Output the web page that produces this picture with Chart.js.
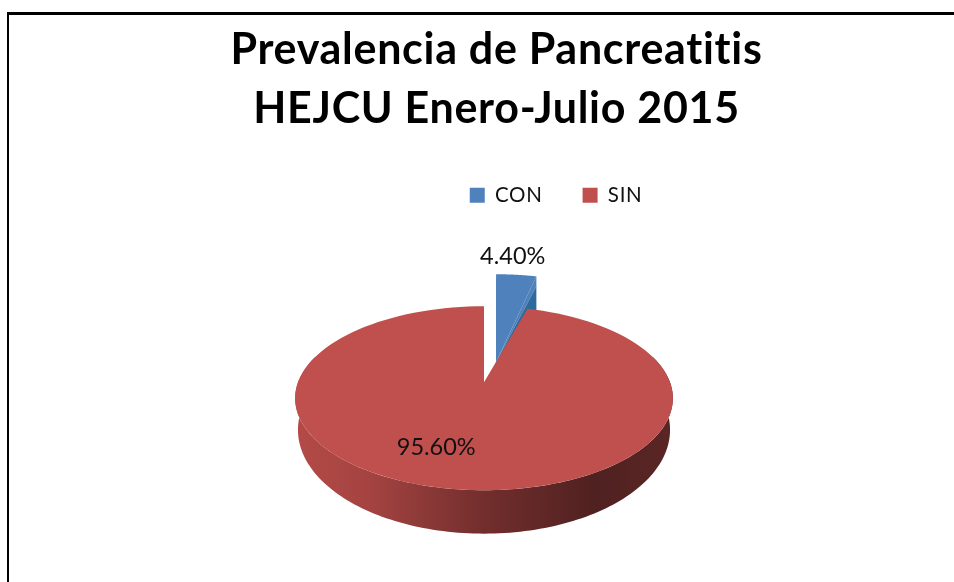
<!DOCTYPE html>
<html>
<head>
<meta charset="utf-8">
<style>
html, body { margin: 0; padding: 0; background: #fff; }
#wrap { width: 954px; height: 582px; }
</style>
<script src="https://cdn.jsdelivr.net/npm/chart.js@4"></script>
</head>
<body>
<div id="wrap"><canvas id="myChart" width="954" height="582"></canvas></div>
<script>
var categories = ['CON', 'SIN'];
var values = [4.40, 95.60];
var valueLabels = ['4.40%', '95.60%'];
var titleLines = ['Prevalencia de Pancreatitis', 'HEJCU Enero-Julio 2015'];
var sliceColors = ['#4f81bd', '#c0504d'];

// tilt of the disc, as excel draws it for a 3d pie
var tilt = -0.174;
var discW = 186;
var discH = 89.2;
var wallDepth = 41;

// disc coordinates (u right, v down, radius 1) to canvas pixels
function project(el, u, v) {
    var w = 1 + tilt * v;
    return {
        x: el.x + discW * u / w,
        y: el.y + discH * v / w
    };
}

function polar(angle, r, du, dv) {
    return { u: Math.cos(angle) * r + (du || 0), v: Math.sin(angle) * r + (dv || 0) };
}

function slicePath(ctx, el, apex, du, dv) {
    ctx.beginPath();
    ctx.moveTo(apex.x, apex.y);
    for (var i = 0; i <= 120; i++) {
        var a = el.startAngle + (el.endAngle - el.startAngle) * i / 120;
        var p = polar(a, 1, du, dv);
        var q = project(el, p.u, p.v);
        ctx.lineTo(q.x, q.y);
    }
    ctx.closePath();
}

// lower rim sits a bit narrower than the top one
function lowerPoint(el, p) {
    return {
        x: el.x + (p.x - el.x) * 0.985,
        y: p.y + wallDepth * (0.72 + 0.28 * (p.y - el.y) / discH)
    };
}

function wallPath(ctx, el, from, to) {
    var i, a, p, top = [];
    for (i = 0; i <= 160; i++) {
        a = from + (to - from) * i / 160;
        p = polar(a, 1);
        top.push(project(el, p.u, p.v));
    }
    ctx.beginPath();
    for (i = 0; i < top.length; i++) {
        ctx.lineTo(top[i].x, top[i].y);
    }
    for (i = top.length - 1; i >= 0; i--) {
        var low = lowerPoint(el, top[i]);
        ctx.lineTo(low.x, low.y);
    }
    ctx.closePath();
}

var tiltedPie = {
    id: 'tiltedPie',
    afterLayout: function (chart) {
        // title and legend are not centred on the pie in the original
        chart.titleBlock.left += 12.5;
        chart.titleBlock.right += 12.5;
        chart.legend.left += 70;
        chart.legend.right += 70;
    },
    beforeDraw: function (chart) {
        var ctx = chart.ctx;
        ctx.save();
        ctx.fillStyle = '#fff';
        ctx.fillRect(0, 0, chart.width, chart.height);
        ctx.fillStyle = '#000';
        ctx.fillRect(7, 12, 2, chart.height - 12);
        ctx.fillRect(7, 12, chart.width - 7, 3);
        ctx.restore();
        ctx.letterSpacing = '0.7px';
    },
    beforeDatasetDraw: function (chart, args) {
        var ctx = chart.ctx;
        var arcs = args.meta.data;
        var con = arcs[0], sin = arcs[1];
        ctx.letterSpacing = '0px';
        ctx.save();

        // exploded slice: top first, dark inner wall over its lower side
        var a = project(con, 0.067, -0.233);
        var b = polar(con.endAngle, 1, 0.082, -0.534);
        var c = project(con, b.u, b.v);
        slicePath(ctx, con, a, 0.082, -0.534);
        ctx.fillStyle = sliceColors[0];
        ctx.fill();
        ctx.beginPath();
        ctx.moveTo(a.x, a.y);
        ctx.lineTo(c.x, c.y);
        ctx.lineTo(c.x, c.y + 10);
        ctx.closePath();
        ctx.fill();
        ctx.fillStyle = '#2f6a9b';
        ctx.beginPath();
        ctx.moveTo(a.x, a.y);
        ctx.lineTo(c.x, c.y + 10);
        ctx.lineTo(c.x, c.y + 40);
        ctx.lineTo(a.x, a.y + 40);
        ctx.closePath();
        ctx.fill();

        // front wall of the big slice
        var left = sin.x - discW;
        var grad = ctx.createLinearGradient(left, 0, left + discW * 2, 0);
        grad.addColorStop(0, '#b34a47');
        grad.addColorStop(0.2, '#a34341');
        grad.addColorStop(0.5, '#722e2d');
        grad.addColorStop(0.8, '#4f2120');
        grad.addColorStop(1, '#5a2625');
        wallPath(ctx, sin, -0.3, Math.PI + 0.3);
        ctx.fillStyle = grad;
        ctx.fill();

        slicePath(ctx, sin, project(sin, 0, 0), 0, 0);
        ctx.fillStyle = sliceColors[1];
        ctx.fill();
        ctx.restore();
        return false;
    },
    afterDatasetsDraw: function (chart) {
        var ctx = chart.ctx;
        var arcs = chart.getDatasetMeta(0).data;
        var nudges = [[-1, -23], [-30, 4]];
        ctx.save();
        ctx.font = '23.5px Lato';
        ctx.fillStyle = '#111';
        ctx.textAlign = 'center';
        ctx.textBaseline = 'middle';
        arcs.forEach(function (el, i) {
            var mid = (el.startAngle + el.endAngle) / 2;
            var radial = i === 0 ? 1.45 : 0.62;
            var p = polar(mid, radial);
            var q = project(el, p.u, p.v);
            ctx.fillText(valueLabels[i], q.x + nudges[i][0], q.y + nudges[i][1]);
        });
        ctx.restore();
    }
};

new Chart('myChart', {
    type: 'pie',
    data: {
        labels: categories,
        datasets: [{
            data: values,
            backgroundColor: sliceColors,
            borderWidth: 0
        }]
    },
    options: {
        responsive: false,
        animation: false,
        events: [],
        layout: {
            padding: { left: 14, top: 21, bottom: 33 }
        },
        plugins: {
            title: {
                display: true,
                text: titleLines,
                color: '#000',
                font: { family: 'Lato', size: 43, weight: 'bold', lineHeight: 1.372 },
                padding: { top: 0, bottom: 6 }
            },
            legend: {
                display: true,
                position: 'top',
                labels: {
                    color: '#111',
                    font: { family: 'Lato', size: 20.5 },
                    boxWidth: 15,
                    boxHeight: 15,
                    padding: 40
                }
            },
            tooltip: { enabled: false }
        }
    },
    plugins: [tiltedPie]
});
</script>
</body>
</html>
